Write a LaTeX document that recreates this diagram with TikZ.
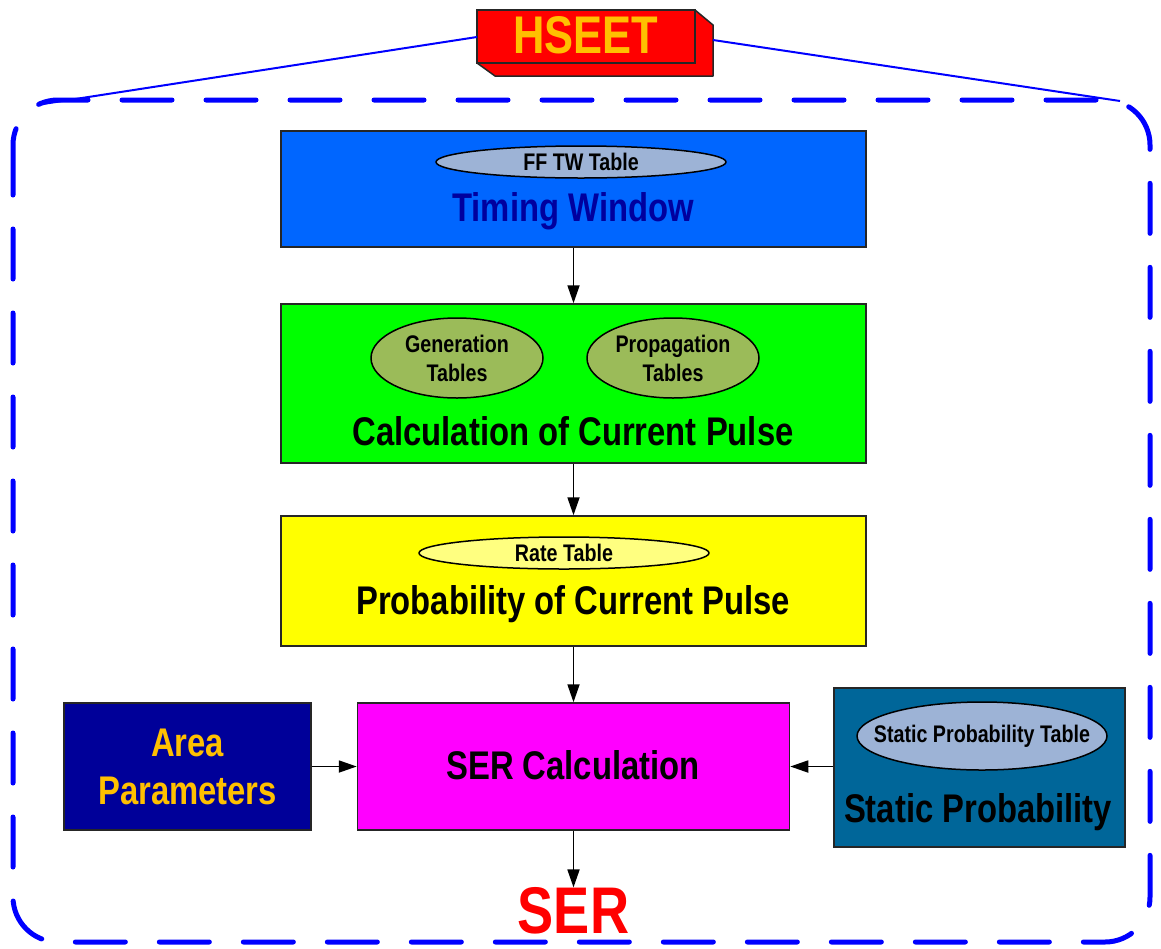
\documentclass[tikz,border=0pt]{standalone}
\usepackage{fontspec}
\setmainfont{Liberation Sans}[FakeStretch=0.82]
\usetikzlibrary{arrows.meta,shapes.geometric}
\definecolor{twblue}{HTML}{0066FF}
\definecolor{ellblue}{HTML}{9DB3D6}
\definecolor{navytxt}{HTML}{00009E}
\definecolor{calcgreen}{HTML}{00FF00}
\definecolor{olive}{HTML}{9BBB59}
\definecolor{probyellow}{HTML}{FFFF00}
\definecolor{ltyellow}{HTML}{FFFF80}
\definecolor{sermag}{HTML}{FF00FF}
\definecolor{areanavy}{HTML}{000099}
\definecolor{gold}{HTML}{FFC000}
\definecolor{steel}{HTML}{006699}
\definecolor{hseetred}{HTML}{FF0000}
\definecolor{frame}{HTML}{0000FF}
\begin{document}
\begin{tikzpicture}[x=1pt,y=-1pt,
  box/.style={draw=black!85,line width=1.5pt},
  ell/.style={draw=black,line width=1.5pt,ellipse,inner sep=0pt},
  elltext/.style={font=\bfseries\fontsize{24}{29}\selectfont,align=center,inner sep=0pt},
  title/.style={font=\bfseries\fontsize{40}{48}\selectfont},
  arr/.style={-{Triangle[length=18pt,width=12pt]},line width=1.8pt,black},
  link/.style={frame,line width=2pt}]
\useasboundingbox (0,0) rectangle (1161,948);
% dashed container
\draw[frame,line width=5pt,line cap=round,dash pattern=on 50pt off 34pt,rounded corners=45pt]
  (13,100) rectangle (1150,942);
% HSEET 3D box
\coordinate (hl) at (477,37);
\coordinate (hr) at (713,40);
\draw[box,fill=hseetred,line join=round] (477,63) -- (495,76) -- (713,76) -- (713,25) -- (695,10) -- (695,63) -- cycle;
\draw[box,fill=hseetred] (477,10) rectangle (695,63);
\node[text=gold,font=\bfseries\fontsize{53}{56}\selectfont] (hseet) at (586,35) {HSEET};
% links
\coordinate (cl) at (43,104);
\coordinate (cr) at (1120,101);
\draw[link] (hl) -- (cl);
\draw[link] (hr) -- (cr);
% Timing window
\node[box,fill=twblue,minimum width=585pt,minimum height=116pt] (tw) at (573.5,189) {};
\node[ell,fill=ellblue,minimum width=290pt,minimum height=32pt] (fftw) at (581,162) {};
\node[elltext] (fftwt) at (fftw.center) {FF TW Table};
\node[title,text=navytxt] (twt) at (573,211) {Timing Window};
% Calculation
\node[box,fill=calcgreen,minimum width=585pt,minimum height=159pt] (calc) at (573.5,383.5) {};
\node[ell,fill=olive,minimum width=172pt,minimum height=80pt] (gen) at (457,358) {};
\node[elltext] (gent) at (gen.center) {Generation\\Tables};
\node[ell,fill=olive,minimum width=172pt,minimum height=80pt] (prop) at (673,358) {};
\node[elltext] (propt) at (prop.center) {Propagation\\Tables};
\node[title] (calct) at (573,431) {Calculation of Current Pulse};
% Probability
\node[box,fill=probyellow,minimum width=585pt,minimum height=130pt] (prob) at (573.5,581) {};
\node[ell,fill=ltyellow,minimum width=290pt,minimum height=32pt] (rate) at (564,553) {};
\node[elltext] (ratet) at (rate.center) {Rate Table};
\node[title] (probt) at (573,604) {Probability of Current Pulse};
% SER calc
\node[box,fill=sermag,minimum width=432pt,minimum height=127pt] (ser) at (573.5,766.5) {};
\node[title] (sert) at (573,765) {SER Calculation};
% Area parameters
\node[box,fill=areanavy,minimum width=247pt,minimum height=127pt,text=gold,align=center,title] (area) at (187.5,766.5) {Area\\Parameters};
% Static probability
\node[box,fill=steel,minimum width=291pt,minimum height=159pt] (stat) at (979.5,767.5) {};
\node[ell,fill=ellblue,minimum width=250pt,minimum height=68pt] (spt) at (982,736) {};
\node[elltext] (sptt) at (spt.center) {Static Probability Table};
\node[title] (statt) at (978,812) {Static Probability};
% SER output
\node[text=red,font=\bfseries\fontsize{66}{70}\selectfont,inner sep=0pt] (out) at (573.5,911) {SER};
% arrows
\draw[arr] (tw.south) -- (calc.north);
\draw[arr] (calc.south) -- (prob.north);
\draw[arr] (prob.south) -- (ser.north);
\draw[arr] (ser.south) -- (out.north);
\draw[arr] (area.east) -- (ser.west);
\draw[arr] (stat.west|-ser.west) -- (ser.east);
\end{tikzpicture}
\end{document}
